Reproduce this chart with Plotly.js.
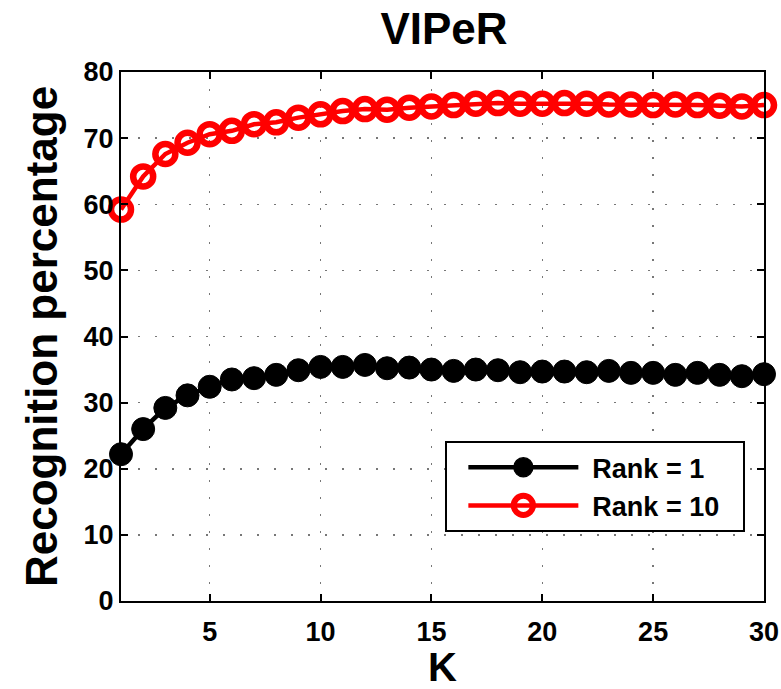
<!DOCTYPE html>
<html>
<head>
<meta charset="utf-8">
<script src="https://cdn.plot.ly/plotly-3.0.1.min.js"></script>
<style>html,body{margin:0;padding:0;background:#fff;}#chart{width:781px;height:689px;}</style>
</head>
<body>
<div id="chart"></div>
<script>
const K = [1,2,3,4,5,6,7,8,9,10,11,12,13,14,15,16,17,18,19,20,21,22,23,24,25,26,27,28,29,30];
const rank1 = [22.2,26.0,29.2,31.1,32.4,33.5,33.7,34.2,34.9,35.4,35.4,35.7,35.2,35.3,35.0,34.8,35.0,34.9,34.6,34.7,34.7,34.6,34.8,34.5,34.5,34.2,34.5,34.2,34.0,34.3];
const rank10 = [59.2,64.2,67.6,69.3,70.6,71.1,72.1,72.4,73.1,73.6,74.1,74.4,74.3,74.6,74.8,75.0,75.2,75.3,75.2,75.2,75.3,75.2,75.1,75.1,75.0,75.1,75.0,74.9,74.8,75.0];
const seriesNames = ['Rank = 1', 'Rank = 10'];
const xTicks = [5,10,15,20,25,30];
const yTicks = [0,10,20,30,40,50,60,70,80];

const FONT = 'Liberation Sans, Arial, Helvetica, sans-serif';

const traces = [
  {
    x: K, y: rank1, name: seriesNames[0], type: 'scatter', mode: 'lines+markers',
    line: {color: '#000000', width: 4.5},
    marker: {symbol: 'circle', size: 23, color: '#000000', line: {color: '#000000', width: 1}},
    cliponaxis: false
  },
  {
    x: K, y: rank10, name: seriesNames[1], type: 'scatter', mode: 'lines+markers',
    line: {color: '#ff0000', width: 4.5},
    marker: {symbol: 'circle-open', size: 20, color: '#ff0000', line: {color: '#ff0000', width: 6.5}},
    cliponaxis: false
  }
];

const axisCommon = {
  showline: true, linecolor: '#000', linewidth: 2, mirror: 'ticks',
  ticks: 'inside', ticklen: 7, tickwidth: 2, tickcolor: '#000',
  showgrid: true, gridcolor: '#777777', gridwidth: 1.5, griddash: '2px,15px',
  zeroline: false,
  tickfont: {family: FONT, size: 27, color: '#000', weight: 'bold'}
};

const layout = {
  width: 781, height: 689,
  margin: {l: 121, r: 17, t: 72, b: 88},
  paper_bgcolor: '#fff', plot_bgcolor: '#fff',
  title: {text: 'VIPeR', x: 0.5685, xanchor: 'center', y: 0.958, yanchor: 'middle',
          font: {family: FONT, size: 44, color: '#000', weight: 'bold'}},
  xaxis: Object.assign({}, axisCommon, {
    range: [1, 30], tickvals: xTicks, ticktext: xTicks.map(String),
    ticklabelstandoff: 6,
    title: {text: 'K', standoff: 10, font: {family: FONT, size: 40, color: '#000', weight: 'bold'}}
  }),
  yaxis: Object.assign({}, axisCommon, {
    range: [0, 80], tickvals: yTicks, ticktext: yTicks.map(String),
    title: {text: 'Recognition percentage', standoff: 12, font: {family: FONT, size: 44, color: '#000', weight: 'bold'}}
  }),
  showlegend: true,
  legend: {
    x: 0.971, y: 0.13, xanchor: 'right', yanchor: 'bottom',
    bgcolor: '#fff', bordercolor: '#000', borderwidth: 2,
    font: {family: FONT, size: 27, color: '#000', weight: 'bold'},
    itemwidth: 154, tracegroupgap: 0
  }
};

Plotly.newPlot('chart', traces, layout, {displayModeBar: false, staticPlot: true}).then(function () {
  // MATLAB-style legend: longer sample lines, text shifted to match
  document.querySelectorAll('.legend .traces').forEach(function (g) {
    const txt = g.querySelector('text.legendtext');
    let tx = txt ? parseFloat(txt.getAttribute('x')) : 160;
    tx = tx - 19;
    if (txt) {
      txt.setAttribute('x', tx);
      txt.querySelectorAll('tspan').forEach(function (t) { if (t.hasAttribute('x')) t.setAttribute('x', tx); });
    }
    const end = tx - 14;
    const start = end - 110;
    g.querySelectorAll('path.js-line').forEach(function (p) {
      p.setAttribute('d', 'M' + start + ',0h110');
    });
    g.querySelectorAll('path.scatterpts').forEach(function (p) {
      p.setAttribute('transform', 'translate(' + (start + 55) + ',0) scale(1.2)');
    });
  });
});
</script>
</body>
</html>
